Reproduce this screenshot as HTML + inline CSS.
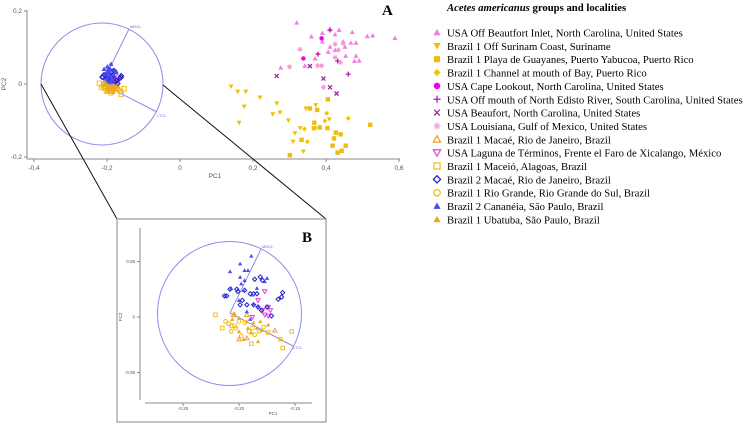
<!DOCTYPE html>
<html><head><meta charset="utf-8"><style>
body{margin:0;background:#fff;width:754px;height:423px;overflow:hidden}
svg{display:block}
.ax{stroke:#888;stroke-width:1;fill:none}
.tk{font-family:"Liberation Sans",sans-serif;font-size:6.5px;fill:#555}
.lg{font-family:"Liberation Serif",serif;font-size:10.7px;fill:#000}
</style></head><body>
<svg id="fig" width="754" height="423" viewBox="0 0 754 423">
<g id="panelA"></g>
<g id="panelB"></g>
<g id="legend"></g>
</svg>
<script>
// ---- data (PC1 / PC2 scores) ----
const beaufortInletX=[0.32,0.36,0.39,0.41,0.39,0.425,0.436,0.472,0.447,0.468,0.482,0.513,0.528,0.406,0.425,0.454,0.482,0.478,0.491,0.452,0.276,0.342,0.370,0.411,0.589];
const beaufortInletY=[0.168,0.13,0.14,0.15,0.116,0.136,0.148,0.142,0.116,0.113,0.113,0.131,0.133,0.088,0.093,0.077,0.077,0.063,0.064,0.102,0.045,0.050,0.070,0.102,0.126];
const surinamX=[0.14,0.158,0.18,0.219,0.176,0.162,0.265,0.254,0.297,0.329,0.315,0.31,0.338,0.345,0.372,0.409,0.274];
const surinamY=[-0.007,-0.021,-0.021,-0.037,-0.062,-0.106,-0.053,-0.083,-0.1,-0.121,-0.135,-0.158,-0.185,-0.067,-0.058,-0.097,-0.078];
const guayanesX=[0.405,0.356,0.376,0.368,0.383,0.367,0.404,0.333,0.427,0.44,0.422,0.418,0.432,0.443,0.454,0.521,0.301];
const guayanesY=[-0.042,-0.067,-0.071,-0.106,-0.119,-0.121,-0.121,-0.153,-0.133,-0.138,-0.149,-0.169,-0.188,-0.183,-0.169,-0.112,-0.195];
const channelX=[0.402,0.397,0.341,0.37,0.349,0.461];
const channelY=[-0.08,-0.101,-0.123,-0.12,-0.158,-0.094];
const capeLookoutX=[0.388,0.338];
const capeLookoutY=[0.125,0.07];
const edistoX=[0.378,0.411,0.432,0.461];
const edistoY=[0.082,0.148,0.063,0.027];
const beaufortX=[0.265,0.356,0.393,0.411,0.429];
const beaufortY=[0.022,0.049,0.015,-0.009,-0.026];
const louisianaX=[0.329,0.3,0.377,0.388,0.434,0.425,0.44,0.393,0.425,0.447];
const louisianaY=[0.095,0.047,0.05,0.05,0.093,0.073,0.059,-0.009,0.109,0.111];
const macae1X=[-0.193,-0.2,-0.193,-0.168,-0.205];
const macae1Y=[0.002,-0.02,-0.019,-0.012,0.002];
const terminosX=[-0.177,-0.183,-0.174,-0.177,-0.174,-0.188,-0.172,-0.179];
const terminosY=[0.023,0.015,0.009,0.002,0.001,0,0.006,0.006];
const maceioX=[-0.221,-0.215,-0.209,-0.153,-0.163,-0.161,-0.174,-0.189,-0.204];
const maceioY=[0.002,-0.01,-0.006,-0.013,-0.02,-0.028,-0.014,-0.024,-0.008];
const macae2X=[-0.213,-0.211,-0.208,-0.202,-0.197,-0.199,-0.193,-0.187,-0.181,-0.179,-0.19,-0.187,-0.184,-0.183,-0.18,-0.175,-0.171,-0.165,-0.161,-0.162,-0.201,-0.195,-0.186];
const macae2Y=[0.019,0.019,0.025,0.025,0.015,0.011,0.011,0.011,0.036,0.033,0.021,0.021,0.021,0.009,0.006,0.009,0.001,0.016,0.022,0.018,0.023,0.024,0.034];
const rioGrandeX=[-0.212,-0.207,-0.203,-0.198,-0.188,-0.182,-0.178,-0.195,-0.191,-0.2,-0.207,-0.186];
const rioGrandeY=[-0.004,-0.013,-0.01,-0.017,-0.01,-0.013,-0.009,-0.005,-0.013,-0.004,-0.008,-0.016];
const cananeiaX=[-0.199,-0.189,-0.208,-0.195,-0.192,-0.199,-0.195,-0.198,-0.207,-0.184,-0.175,-0.177,-0.187,-0.19,-0.196,-0.188,-0.2,-0.183,-0.193];
const cananeiaY=[0.048,0.055,0.041,0.042,0.042,0.036,0.033,0.030,0.026,0.026,0.035,0.032,0.012,-0.002,0.024,0.02,0.015,0.01,0.005];
const ubatubaX=[-0.204,-0.2,-0.193,-0.183,-0.196,-0.187,-0.181,-0.174,-0.206,-0.192,-0.189,-0.2,-0.184,-0.18];
const ubatubaY=[0.003,-0.001,-0.004,-0.022,-0.02,-0.005,-0.004,-0.007,-0.002,-0.01,-0.014,-0.013,-0.01,-0.012];
const ticksAX=[-0.4,-0.2,0,0.2,0.4,0.6];
const ticksAXLabels=["-0,4","-0,2","0","0,2","0,4","0,6"];
const ticksAY=[-0.2,0,0.2];
const ticksAYLabels=["-0,2","0","0,2"];
const ticksBX=[-0.25,-0.2,-0.15];
const ticksBXLabels=["-0.25","-0.20","-0.15"];
const ticksBY=[-0.05,0,0.05];
const ticksBYLabels=["-0.05","0","0.05"];
const legendLabels=["USA Off Beautfort Inlet, North Carolina, United States","Brazil 1 Off Surinam Coast, Suriname","Brazil 1 Playa de Guayanes, Puerto Yabucoa, Puerto Rico","Brazil 1 Channel at mouth of Bay, Puerto Rico","USA Cape Lookout, North Carolina, United States","USA Off mouth of North Edisto River, South Carolina, United States","USA Beaufort, North Carolina, United States","USA Louisiana, Gulf of Mexico, United States","Brazil 1 Macaé, Rio de Janeiro, Brazil","USA Laguna de Términos, Frente el Faro de Xicalango, México","Brazil 1 Maceió, Alagoas, Brazil","Brazil 2 Macaé, Rio de Janeiro, Brazil","Brazil 1 Rio Grande, Rio Grande do Sul, Brazil","Brazil 2 Cananéia, São Paulo, Brazil","Brazil 1 Ubatuba, São Paulo, Brazil"];

const NS="http://www.w3.org/2000/svg";
function mk(tag,attrs,parent){const e=document.createElementNS(NS,tag);for(const k in attrs)e.setAttribute(k,attrs[k]);parent.appendChild(e);return e;}
const series=[
 {x:beaufortInletX,y:beaufortInletY,shape:"tri",c:"#ef7fe6",f:1},
 {x:surinamX,y:surinamY,shape:"dtri",c:"#efc000",f:1},
 {x:guayanesX,y:guayanesY,shape:"sq",c:"#ecbd10",f:1},
 {x:channelX,y:channelY,shape:"dia",c:"#f2c400",f:1},
 {x:capeLookoutX,y:capeLookoutY,shape:"circ",c:"#ee00ee",f:1},
 {x:edistoX,y:edistoY,shape:"plus",c:"#b01cb0",f:1},
 {x:beaufortX,y:beaufortY,shape:"x",c:"#9a2a9a",f:1},
 {x:louisianaX,y:louisianaY,shape:"ast",c:"#f59ad0",f:1},
 {x:macae1X,y:macae1Y,shape:"tri",c:"#f0a030",f:0},
 {x:terminosX,y:terminosY,shape:"dtri",c:"#e040e0",f:0},
 {x:maceioX,y:maceioY,shape:"sq",c:"#f0c020",f:0},
 {x:macae2X,y:macae2Y,shape:"dia",c:"#2222cc",f:0},
 {x:rioGrandeX,y:rioGrandeY,shape:"circ",c:"#f2c000",f:0},
 {x:cananeiaX,y:cananeiaY,shape:"tri",c:"#4a4af0",f:1},
 {x:ubatubaX,y:ubatubaY,shape:"tri",c:"#e8a820",f:1}
];
function marker(g,shape,cx,cy,s,c,filled){
  const fill=filled?c:"none",sw=filled?0:Math.max(1,s*0.35);
  let e;
  if(shape==="tri")e=mk("polygon",{points:`${cx},${cy-s} ${cx+s},${cy+s*0.8} ${cx-s},${cy+s*0.8}`,fill,stroke:c,"stroke-width":sw},g);
  else if(shape==="dtri")e=mk("polygon",{points:`${cx},${cy+s} ${cx+s},${cy-s*0.8} ${cx-s},${cy-s*0.8}`,fill,stroke:c,"stroke-width":sw},g);
  else if(shape==="sq")e=mk("rect",{x:cx-s*0.85,y:cy-s*0.85,width:s*1.7,height:s*1.7,fill,stroke:c,"stroke-width":sw},g);
  else if(shape==="dia")e=mk("polygon",{points:`${cx},${cy-s} ${cx+s},${cy} ${cx},${cy+s} ${cx-s},${cy}`,fill,stroke:c,"stroke-width":sw},g);
  else if(shape==="circ")e=mk("circle",{cx,cy,r:s*0.9,fill,stroke:c,"stroke-width":sw},g);
  else if(shape==="plus")e=mk("path",{d:`M${cx-s} ${cy}H${cx+s}M${cx} ${cy-s}V${cy+s}`,stroke:c,"stroke-width":1.3,fill:"none"},g);
  else if(shape==="x")e=mk("path",{d:`M${cx-s*0.8} ${cy-s*0.8}L${cx+s*0.8} ${cy+s*0.8}M${cx+s*0.8} ${cy-s*0.8}L${cx-s*0.8} ${cy+s*0.8}`,stroke:c,"stroke-width":1.3,fill:"none"},g);
  else e=mk("path",{d:`M${cx-s} ${cy}H${cx+s}M${cx} ${cy-s}V${cy+s}M${cx-s*0.7} ${cy-s*0.7}L${cx+s*0.7} ${cy+s*0.7}M${cx+s*0.7} ${cy-s*0.7}L${cx-s*0.7} ${cy+s*0.7}`,stroke:c,"stroke-width":1,fill:"none"},g);
  return e;
}
// ---- Panel A ----
const A=document.getElementById("panelA");
const ax=v=>180+v*365, ay=v=>84-v*365;
mk("line",{x1:27,y1:10,x2:27,y2:159,class:"ax"},A);
mk("line",{x1:27,y1:159,x2:400,y2:159,class:"ax"},A);
ticksAX.forEach((t,i)=>{mk("line",{x1:ax(t),y1:159,x2:ax(t),y2:162,class:"ax"},A);const tx=mk("text",{x:ax(t),y:170,class:"tk","text-anchor":"middle"},A);tx.textContent=ticksAXLabels[i];

});
ticksAY.forEach((t,i)=>{mk("line",{x1:24,y1:ay(t),x2:27,y2:ay(t),class:"ax"},A);const tx=mk("text",{x:22,y:ay(t)+2,class:"tk","text-anchor":"end"},A);tx.textContent=ticksAYLabels[i];

});
const pa=mk("text",{x:215,y:178,class:"tk","text-anchor":"middle"},A);pa.textContent="PC1";


const pa2=mk("text",{x:6,y:84,class:"tk","text-anchor":"middle",transform:"rotate(-90 6 84)"},A);pa2.textContent="PC2";


mk("circle",{cx:102,cy:84,r:61,fill:"none",stroke:"#8c8ce8","stroke-width":1},A);
mk("path",{d:"M102 84L129 29M102 84L157 112",stroke:"#8c8ce8","stroke-width":1,fill:"none"},A);
const m1=mk("text",{x:130,y:28,style:"font:4px 'Liberation Sans',sans-serif;fill:#6a6ad8"},A);m1.textContent="MDCL";
const m2=mk("text",{x:157,y:117,style:"font:4px 'Liberation Sans',sans-serif;fill:#6a6ad8"},A);m2.textContent="LTCL";
series.forEach(s=>{s.x.forEach((v,i)=>{const e=marker(A,s.shape,ax(v),ay(s.y[i]),s.shape==="sq"?2.6:2.5,s.c,s.f);

});});
mk("path",{d:"M41 84L117 219M163 85L326 219",stroke:"#111","stroke-width":1,fill:"none"},A);
const la=mk("text",{x:382,y:15,style:"font:bold 15px 'Liberation Serif',serif"},A);la.textContent="A";
// ---- Panel B ----
const B=document.getElementById("panelB");
mk("rect",{x:117,y:219,width:209,height:203,fill:"#fff",stroke:"#999","stroke-width":1.2},B);
const bx=v=>239+(v+0.2)*1120, by=v=>317-v*1110;
mk("line",{x1:140,y1:228,x2:140,y2:400,class:"ax"},B);
mk("line",{x1:145,y1:403,x2:312,y2:403,class:"ax"},B);
ticksBX.forEach((t,i)=>{mk("line",{x1:bx(t),y1:403,x2:bx(t),y2:406,class:"ax"},B);const tx=mk("text",{x:bx(t),y:410,class:"tk","text-anchor":"middle",style:"font-size:4.5px"},B);tx.textContent=ticksBXLabels[i];

});
ticksBY.forEach((t,i)=>{mk("line",{x1:137,y1:by(t),x2:140,y2:by(t),class:"ax"},B);const tx=mk("text",{x:135,y:by(t)+1.5,class:"tk","text-anchor":"end",style:"font-size:4.5px"},B);tx.textContent=ticksBYLabels[i];

});
const pb=mk("text",{x:273,y:415,class:"tk","text-anchor":"middle",style:"font-size:4.5px"},B);pb.textContent="PC1";
const pb2=mk("text",{x:122,y:317,class:"tk","text-anchor":"middle",style:"font-size:4.5px",transform:"rotate(-90 122 317)"},B);pb2.textContent="PC2";
mk("circle",{cx:229.5,cy:313.5,r:72,fill:"none",stroke:"#8c8ce8","stroke-width":1},B);
mk("path",{d:"M230 313L261 249M230 313L293 346",stroke:"#8c8ce8","stroke-width":1,fill:"none"},B);
const m3=mk("text",{x:262,y:248,style:"font:4px 'Liberation Sans',sans-serif;fill:#6a6ad8"},B);m3.textContent="MDCL";
const m4=mk("text",{x:293,y:349,style:"font:4px 'Liberation Sans',sans-serif;fill:#6a6ad8"},B);m4.textContent="LTCL";
series.forEach(s=>{s.x.forEach((v,i)=>{const X=bx(v),Y=by(s.y[i]);if(X<145||X>312||Y<228||Y>400)return;const e=marker(B,s.shape,X,Y,2.1,s.c,s.f);

});});
const lb=mk("text",{x:302,y:242,style:"font:bold 15px 'Liberation Serif',serif"},B);lb.textContent="B";
// ---- Legend ----
const L=document.getElementById("legend");
const tt=mk("text",{x:447,y:11,style:"font:bold 10.7px 'Liberation Serif',serif"},L);
tt.innerHTML='<tspan font-style="italic">Acetes americanus</tspan> groups and localities';
series.forEach((s,i)=>{const y=33+i*13.35;const g=mk("g",{},L);


marker(g,s.shape,437,y-0.5,3.6,s.c,s.f);const t=mk("text",{x:447,y:y+3.5,class:"lg"},g);t.textContent=legendLabels[i];});
</script>
</body></html>
